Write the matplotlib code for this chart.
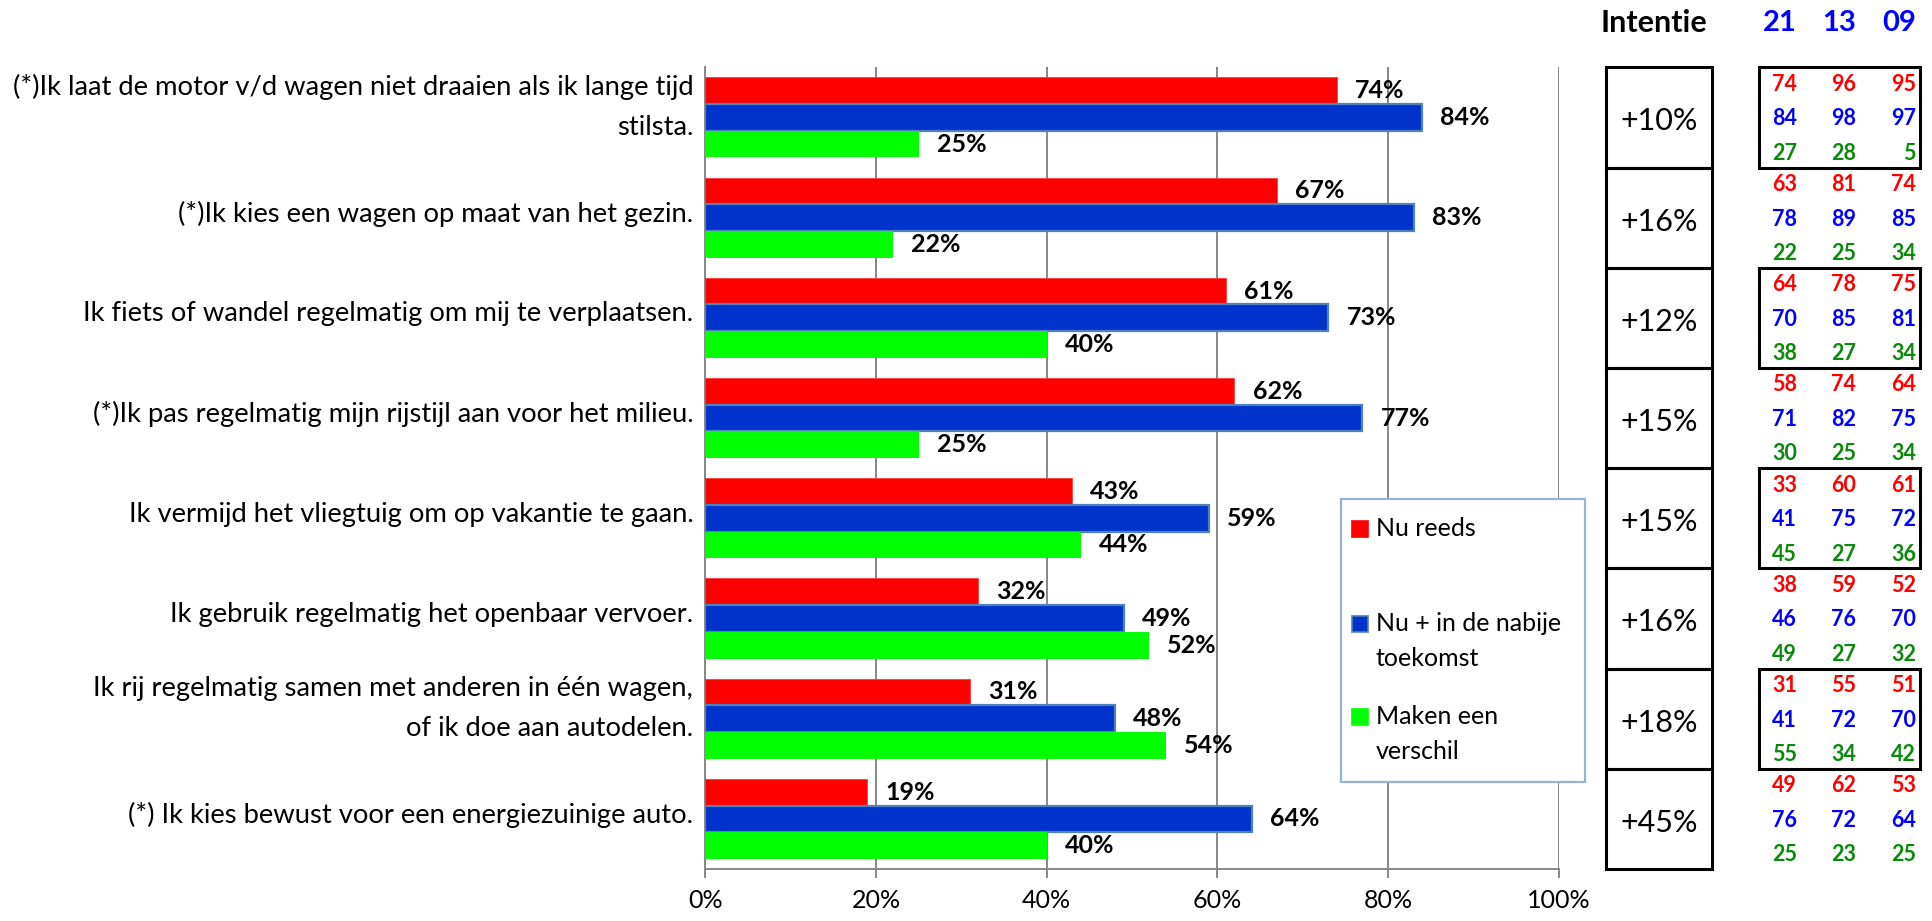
import matplotlib
matplotlib.use('Agg')
import matplotlib.pyplot as plt
from matplotlib.patches import Rectangle
from matplotlib.transforms import ScaledTranslation
import numpy as np

plt.rcParams['font.family'] = ['Lato', 'DejaVu Sans']

# ---------------- data ----------------
categories = [
    "(*)Ik laat de motor v/d wagen niet draaien als ik lange tijd\nstilsta.",
    "(*)Ik kies een wagen op maat van het gezin.",
    "Ik fiets of wandel regelmatig om mij te verplaatsen.",
    "(*)Ik pas regelmatig mijn rijstijl aan voor het milieu.",
    "Ik vermijd het vliegtuig om op vakantie te gaan.",
    "Ik gebruik regelmatig het openbaar vervoer.",
    "Ik rij regelmatig samen met anderen in één wagen,\nof ik doe aan autodelen.",
    "(*) Ik kies bewust voor een energiezuinige auto.",
]
nu_reeds = [74, 67, 61, 62, 43, 32, 31, 19]
nu_nabij = [84, 83, 73, 77, 59, 49, 48, 64]
verschil = [25, 22, 40, 25, 44, 52, 54, 40]
series_names = ["Nu reeds", "Nu + in de nabije\ntoekomst", "Maken een\nverschil"]

xticks = [0, 20, 40, 60, 80, 100]
xtick_labels = ["0%", "20%", "40%", "60%", "80%", "100%"]

intentie_header = "Intentie"
intentie = ["+10%", "+16%", "+12%", "+15%", "+15%", "+16%", "+18%", "+45%"]

years = ["21", "13", "09"]
table_nu_reeds = [[74, 96, 95], [63, 81, 74], [64, 78, 75], [58, 74, 64],
                  [33, 60, 61], [38, 59, 52], [31, 55, 51], [49, 62, 53]]
table_nabij = [[84, 98, 97], [78, 89, 85], [70, 85, 81], [71, 82, 75],
               [41, 75, 72], [46, 76, 70], [41, 72, 70], [76, 72, 64]]
table_verschil = [[27, 28, 5], [22, 25, 34], [38, 27, 34], [30, 25, 34],
                  [45, 27, 36], [49, 27, 32], [55, 34, 42], [25, 23, 25]]

# ---------------- style ----------------
RED, BLUE, GREEN = '#FF0000', '#0033CC', '#00FF00'
BLUE_EDGE = '#4F81BD'
GRID = '#878787'
T_RED, T_BLUE, T_GREEN = '#FF0000', '#0000FF', '#0A8A0A'

W, H = 1933, 921
fig = plt.figure(figsize=(W / 100, H / 100), dpi=100)
L, R, T, B = 705.3, 1558.8, 67.3, 869.0
ax = fig.add_axes([L / W, 1 - B / H, (R - L) / W, (B - T) / H])

n = len(categories)
y = np.arange(n)
h = 0.2665
c1 = ax.barh(y - h, nu_reeds, height=h, color=RED, edgecolor='#FF3A3A', linewidth=0.6, zorder=3)
c2 = ax.barh(y, nu_nabij, height=h, color=BLUE, edgecolor=BLUE_EDGE, linewidth=1.6, zorder=3)
c3 = ax.barh(y + h, verschil, height=h, color=GREEN, edgecolor='none', zorder=3)

for cont, vals in ((c1, nu_reeds), (c2, nu_nabij), (c3, verschil)):
    ax.bar_label(cont, labels=[f"{v}%" for v in vals], padding=13,
                 fontsize=18, fontweight='bold', color='black')

ax.set_xlim(0, 100)
ax.set_ylim(n - 0.5, -0.5)
ax.set_xticks(xticks)
ax.set_xticklabels(xtick_labels)
ax.set_yticks(y)
ax.set_yticklabels([])

# category labels (drawn as text at each category position)
for yi, cat in zip(y, categories):
    two = "\n" in cat
    dy = (10 if two else 4) / 100.0
    tr = ax.get_yaxis_transform() + ScaledTranslation(-12 / 100.0, dy, fig.dpi_scale_trans)
    ax.text(0, yi, cat, transform=tr, ha='right', va='center', ma='right',
            fontsize=19.7, linespacing=1.75, color='black', clip_on=False)

ax.xaxis.grid(True, color=GRID, linewidth=1.4, zorder=0)
ax.set_axisbelow(True)
for s in ('top', 'right'):
    ax.spines[s].set_visible(False)
for s in ('left', 'bottom'):
    ax.spines[s].set_color(GRID)
    ax.spines[s].set_linewidth(1.4)
ax.tick_params(axis='x', direction='out', length=6.5, width=1.4, color=GRID,
               labelsize=18, pad=8)
ax.tick_params(axis='y', length=0)

# ---------------- right panel ----------------
X0 = 1590
ax2 = fig.add_axes([X0 / W, 1 - B / H, (W - X0) / W, (B - T) / H])
ax2.set_xlim(X0, W)
ax2.set_ylim(n - 0.5, -0.5)
ax2.axis('off')

header_y = (22.7 - T) / ((B - T) / n) - 0.5
ax2.text(1654, header_y, intentie_header, ha='center', va='center',
         fontsize=22, fontweight='bold', color='black', clip_on=False)
col_right = [1797, 1856, 1916]
for j, yr in enumerate(years):
    ax2.text(col_right[j], header_y, yr, ha='right', va='center',
             fontsize=21, fontweight='bold', color=T_BLUE, clip_on=False)

for i, txt in enumerate(intentie):
    ax2.add_patch(Rectangle((1606, i - 0.5), 105.7, 1, fill=False, lw=2.2,
                            ec='black', clip_on=False))
    ax2.text(1659, i + 0.04, txt, ha='center', va='center', fontsize=22,
             color='black')

row_off = [-0.33, 0.015, 0.358]
for i in range(n):
    for k, (tbl, col) in enumerate(((table_nu_reeds, T_RED), (table_nabij, T_BLUE),
                                    (table_verschil, T_GREEN))):
        for j in range(3):
            ax2.text(col_right[j], i + row_off[k], str(tbl[i][j]), ha='right',
                     va='center', fontsize=15.5, fontweight='bold', color=col)
for i in range(0, n, 2):
    ax2.add_patch(Rectangle((1759, i - 0.5), 161, 1, fill=False, lw=2.2,
                            ec='black', clip_on=False))

# ---------------- legend (manual, Excel-like) ----------------
ov = fig.add_axes([0, 0, 1, 1])
ov.set_xlim(0, W)
ov.set_ylim(H, 0)
ov.axis('off')
ov.set_zorder(5)
ov.add_patch(Rectangle((1341, 499.3), 244, 282.4, fc='white', ec='#95B3D7', lw=1.6))
sq_y = [528.5, 623.5, 716.7]
sq_cols = [(RED, RED), (BLUE, BLUE_EDGE), (GREEN, GREEN)]
for (fc, ec), yc, name in zip(sq_cols, sq_y, series_names):
    ov.add_patch(Rectangle((1352, yc - 8), 16, 16, fc=fc, ec=ec, lw=1.2))
    for li, line in enumerate(name.split("\n")):
        ov.text(1376, yc + li * 35, line, ha='left', va='center', fontsize=18,
                color='black')

fig.savefig('out.png', dpi=100)
